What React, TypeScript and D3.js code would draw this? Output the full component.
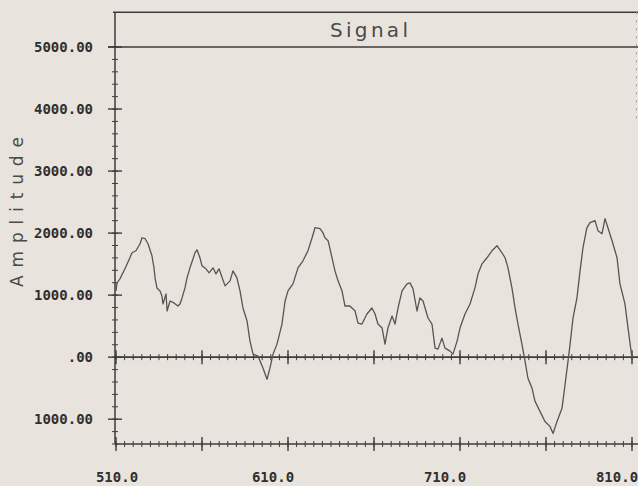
import React from "react";
import * as d3 from "d3";

// wavenumber / sample position
const signalX = [
  510.0, 510.6, 512.3, 515.2, 518.1, 519.3, 521.6, 524.0, 525.1, 526.9,
  528.6, 530.9, 532.1, 532.7, 533.8, 535.6, 536.7, 537.3, 539.1, 539.7,
  541.4, 543.7, 546.0, 547.2, 548.4, 550.1, 551.3, 553.0, 554.8, 555.9,
  557.1, 558.8, 560.0, 562.3, 564.1, 566.4, 568.1, 569.9, 573.4, 576.3,
  578.0, 580.3, 582.1, 583.8, 586.2, 587.9, 589.7, 592.6, 595.5, 597.8,
  599.5, 601.3, 603.6, 606.5, 608.3, 610.0, 612.9, 615.8, 618.7, 621.6,
  624.0, 625.7, 628.6, 630.3, 631.5, 633.3, 635.6, 637.3, 639.1, 641.4,
  643.1, 646.0, 649.0, 650.7, 653.0, 655.9, 658.8, 660.6, 662.3, 664.7,
  666.4, 668.1, 670.5, 672.2, 674.0, 676.3, 679.2, 680.9, 682.7, 685.0,
  686.7, 688.5, 691.4, 693.7, 695.5, 697.2, 699.5, 701.3, 704.2, 705.9,
  708.3, 710.0, 712.9, 715.8, 718.7, 720.5, 722.8, 725.7, 728.6, 731.5,
  734.4, 736.2, 737.9, 740.2, 742.0, 743.7, 746.0, 747.8, 749.5, 751.9,
  753.6, 756.5, 759.4, 762.3, 764.1, 766.4, 769.3, 771.1, 772.8, 774.0,
  775.7, 778.0, 779.8, 781.5, 783.8, 785.6, 788.5, 790.2, 792.6, 794.3,
  796.0, 798.4, 801.3, 803.0, 805.9, 807.7, 810.0,
];

const signalY = [
  1068, 1197, 1262, 1424, 1602, 1683, 1715, 1828, 1925, 1909,
  1828, 1634, 1440, 1278, 1116, 1068, 987, 858, 1019, 744,
  906, 874, 825, 858, 955, 1116, 1278, 1440, 1586, 1683,
  1731, 1602, 1472, 1424, 1359, 1440, 1343, 1424, 1149, 1230,
  1391, 1278, 1068, 793, 582, 259, 49, 16, -178, -356,
  -178, 49, 210, 534, 906, 1068, 1181, 1440, 1553, 1715,
  1925, 2087, 2071, 2006, 1925, 1877, 1602, 1391, 1230, 1068,
  825, 825, 744, 550, 534, 696, 793, 696, 534, 469,
  210, 469, 663, 534, 793, 1068, 1181, 1197, 1100, 744,
  955, 906, 631, 534, 146, 129, 307, 146, 97, 49,
  259, 469, 696, 858, 1116, 1343, 1505, 1602, 1715, 1796,
  1683, 1602, 1440, 1116, 793, 534, 210, -65, -340, -502,
  -712, -874, -1036, -1116, -1230, -1036, -825, -437, -65, 210,
  631, 955, 1391, 1764, 2087, 2168, 2200, 2039, 1990, 2233,
  2087, 1877, 1602, 1181, 858, 469, -16,
];

const yTickValues = [5000, 4000, 3000, 2000, 1000, 0, -1000];
const yTickLabels = ["5000.00", "4000.00", "3000.00", "2000.00", "1000.00", ".00", "1000.00"];
const xTickValues = [510, 610, 710, 810];
const xTickLabels = ["510.0", "610.0", "710.0", "810.0"];

const W = 638;
const H = 486;
const ink = "#3c3c3a";
const mono = "'DejaVu Sans Mono', monospace";

export default function App() {
  // plot frame (the x axis runs to the right edge of the page)
  const left = 116;
  const right = 632;
  const x = d3.scaleLinear().domain([510, 810]).range([left, right]);
  const y = d3.scaleLinear().domain([-1400, 5000]).range([444, 47]);
  const yTop = y(5560);

  const line = d3
    .line<number>()
    .x((d, i) => x(signalX[i]))
    .y((d) => y(d));

  const xMinor = d3.range(510, 811, 5);
  const xMajor = d3.range(510, 811, 50);
  const yMinor = d3.range(-1400, 5001, 200);

  const xTicks = (yy: number, key: string) => (
    <g key={key}>
      <line x1={left - 1} x2={W} y1={yy} y2={yy} stroke={ink} strokeWidth={1.6} />
      {xMinor.map((v) => (
        <line key={v} x1={x(v)} x2={x(v)} y1={yy - 3} y2={yy + 3} stroke={ink} strokeWidth={1} />
      ))}
      {xMajor.map((v) => (
        <line key={"M" + v} x1={x(v)} x2={x(v)} y1={yy - 7} y2={yy + 7} stroke={ink} strokeWidth={1.4} />
      ))}
    </g>
  );

  return (
    <svg
      width={W}
      height={H}
      style={{ position: "absolute", left: 0, top: 0, background: "#e8e4dd" }}
    >
      <rect width={W} height={H} fill="#e8e4dd" />

      {/* title box */}
      <line x1={left - 3} x2={W} y1={yTop} y2={yTop} stroke={ink} strokeWidth={1.3} />
      <line x1={left - 8} x2={W} y1={y(5000)} y2={y(5000)} stroke={ink} strokeWidth={1.3} />
      <line x1={W - 1.5} x2={W - 1.5} y1={yTop} y2={y(3800)} stroke="#9a9a96" strokeWidth={1} strokeDasharray="2,6" />
      <text
        x={369}
        y={37}
        textAnchor="middle"
        textLength={78}
        lengthAdjust="spacing"
        fontFamily="'DejaVu Sans', sans-serif"
        fontSize={20}
        fill="#4a4a48"
      >
        Signal
      </text>

      {/* y axis */}
      <line x1={left - 1} x2={left - 1} y1={yTop} y2={444} stroke={ink} strokeWidth={1.5} />
      {yMinor.map((v) => (
        <line key={v} x1={left - 4} x2={left + 2} y1={y(v)} y2={y(v)} stroke={ink} strokeWidth={1} />
      ))}
      {yTickValues.map((v, i) => (
        <g key={"yt" + i}>
          <line x1={left - 8} x2={left + 6} y1={y(v)} y2={y(v)} stroke={ink} strokeWidth={1.4} />
          <text
            x={93}
            y={y(v) + 1}
            textAnchor="end"
            dominantBaseline="middle"
            fontFamily={mono}
            fontWeight="bold"
            fontSize={14}
            fill="#2f2f2d"
          >
            {yTickLabels[i]}
          </text>
        </g>
      ))}
      <text
        transform={`translate(23,${212}) rotate(-90)`}
        textAnchor="middle"
        textLength={150}
        lengthAdjust="spacing"
        fontFamily="'DejaVu Sans', sans-serif"
        fontSize={17}
        fill="#4a4a48"
      >
        Amplitude
      </text>

      {/* zero line and bottom axis */}
      {xTicks(y(0), "zero")}
      {xTicks(444, "bottom")}
      {xTickValues.map((v, i) => (
        <text
          key={"xt" + v}
          x={x(v) + (i === 0 ? 1 : -15)}
          y={482}
          textAnchor="middle"
          fontFamily={mono}
          fontWeight="bold"
          fontSize={14}
          fill="#2f2f2d"
        >
          {xTickLabels[i]}
        </text>
      ))}

      {/* signal trace */}
      <path d={line(signalY) || ""} fill="none" stroke="#555553" strokeWidth={1.3} strokeLinejoin="round" />
    </svg>
  );
}
